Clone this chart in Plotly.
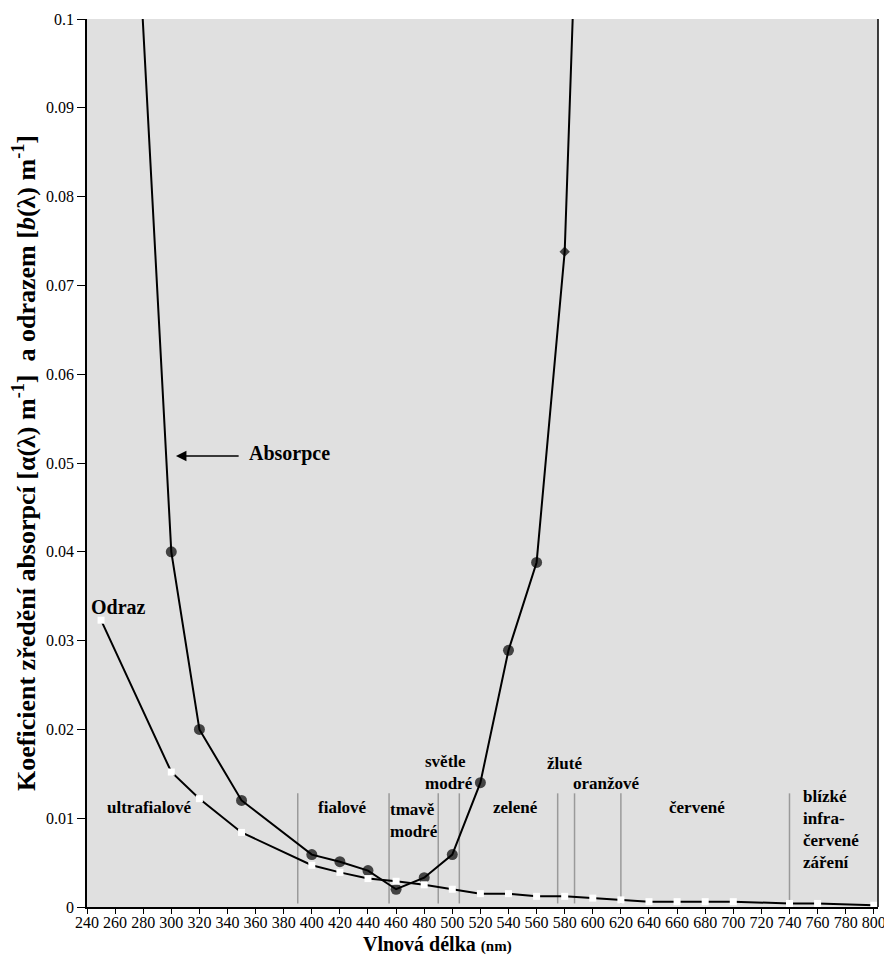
import plotly.graph_objects as go

# ---- data ----
abs_x = [260, 300, 320, 350, 400, 420, 440, 460, 480, 500, 520, 540, 560, 580, 600]
abs_y = [0.158, 0.040, 0.020, 0.012, 0.0059, 0.0051, 0.0041, 0.0020, 0.0033, 0.0059,
         0.0140, 0.0289, 0.0388, 0.0738, 0.166]

odraz_x = [250, 300, 320, 350, 400, 420, 440, 460, 480, 500, 520, 540, 560, 580, 600,
           620, 640, 660, 680, 700, 740, 760, 800]
odraz_y = [0.0323, 0.0152, 0.0122, 0.0084, 0.0047, 0.0039, 0.0032, 0.0029, 0.0025, 0.0020,
           0.0015, 0.0015, 0.0012, 0.0012, 0.0010, 0.0008, 0.0006, 0.0006, 0.0006, 0.0006,
           0.0004, 0.0004, 0.0002]

divider_x = [390, 455, 490, 505, 575, 587, 620, 740]

region_labels = ["ultrafialové", "fialové", "tmavě<br>modré", "světle<br>modré", "zelené",
                 "žluté", "oranžové", "červené", "blízké<br>infra-<br>červené<br>záření"]
region_x = [284, 422, 454, 479, 545, 580, 610, 674, 748]
region_y = [0.01126, 0.01126, 0.0097, 0.0151, 0.01126, 0.0162, 0.01396, 0.01126, 0.0087]
region_anchor = ["center", "center", "left", "left", "center", "center", "center", "center", "left"]

x_ticks = list(range(240, 801, 20))
y_ticks = [0, 0.01, 0.02, 0.03, 0.04, 0.05, 0.06, 0.07, 0.08, 0.09, 0.1]

x_title = "<b>Vlnová délka <span style='font-size:15px'>(nm)</span></b>"
y_title = ("<b>Koeficient zředění absorpcí [α(λ) m<sup>-1</sup>] &nbsp;a odrazem "
           "[<i>b</i>(λ) m<sup>-1</sup>]</b>")

SERIF = "Liberation Serif"

fig = go.Figure()

abs_symbols = ["diamond" if x == 580 else "circle" for x in abs_x]
abs_sizes = [8 if x == 580 else 11 for x in abs_x]

fig.add_trace(go.Scatter(
    x=abs_x, y=abs_y, mode="lines+markers",
    line=dict(color="black", width=2),
    marker=dict(color="black", symbol=abs_symbols, size=abs_sizes, line=dict(width=0)),
    showlegend=False, name="Absorpce"))

fig.add_trace(go.Scatter(
    x=odraz_x, y=odraz_y, mode="lines+markers",
    line=dict(color="black", width=2),
    marker=dict(color="white", symbol="square", size=7, line=dict(width=0)),
    showlegend=False, name="Odraz"))

shapes = []
for dx in divider_x:
    shapes.append(dict(type="line", xref="x", yref="y", x0=dx, x1=dx, y0=0.0004, y1=0.0128,
                       line=dict(color="#9a9a9a", width=1.5), layer="below"))
shapes.append(dict(type="line", xref="paper", yref="paper", x0=1, x1=1, y0=0, y1=1,
                   line=dict(color="black", width=1.5)))

annotations = []
for t, x, y, a in zip(region_labels, region_x, region_y, region_anchor):
    annotations.append(dict(x=x, y=y, xref="x", yref="y", text="<b>" + t + "</b>",
                            showarrow=False, xanchor=a, yanchor="middle", align="left",
                            font=dict(family=SERIF, size=17, color="black")))

annotations.append(dict(x=262.6, y=0.0338, xref="x", yref="y", text="<b>Odraz</b>",
                        showarrow=False, xanchor="center", yanchor="middle",
                        font=dict(family=SERIF, size=20, color="black")))
annotations.append(dict(x=384.3, y=0.0511, xref="x", yref="y", text="<b>Absorpce</b>",
                        showarrow=False, xanchor="center", yanchor="middle",
                        font=dict(family=SERIF, size=20, color="black")))
annotations.append(dict(x=303.3, y=0.0508, ax=349, ay=0.0508, xref="x", yref="y",
                        axref="x", ayref="y", text="", showarrow=True,
                        arrowhead=2, arrowsize=1.4, arrowwidth=1.5, arrowcolor="black"))
# x-axis title (offset left of centre, as in the original)
annotations.append(dict(x=0.4437, y=-0.0417, xref="paper", yref="paper", text=x_title,
                        showarrow=False, xanchor="center", yanchor="middle",
                        font=dict(family=SERIF, size=20, color="black")))

# page body has an 8px default margin, so the figure is 8px smaller and shifted
fig.update_layout(
    width=884, height=947,
    margin=dict(l=79, r=14, t=11, b=48),
    paper_bgcolor="white", plot_bgcolor="#e0e0e0",
    font=dict(family=SERIF, color="black"),
    shapes=shapes, annotations=annotations,
    xaxis=dict(range=[240, 803], tickvals=x_ticks, ticktext=[str(v) for v in x_ticks],
               showgrid=False, zeroline=False, showline=True, linecolor="black", linewidth=1.5,
               ticks="outside", ticklen=5, tickcolor="black", tickwidth=1, automargin=False,
               ticklabelstandoff=-5,
               tickfont=dict(family=SERIF, size=16, color="black")),
    yaxis=dict(range=[0, 0.1], tickvals=y_ticks, ticktext=[f"{v:g}" for v in y_ticks],
               showgrid=False, zeroline=False, showline=True, linecolor="black", linewidth=1.5,
               ticks="outside", ticklen=8, tickcolor="black", tickwidth=1, automargin=False,
               tickfont=dict(family=SERIF, size=16, color="black"),
               title=dict(text=y_title,
                          font=dict(family=SERIF, size=26, color="black"), standoff=6)),
)

fig.write_html("out.html")
